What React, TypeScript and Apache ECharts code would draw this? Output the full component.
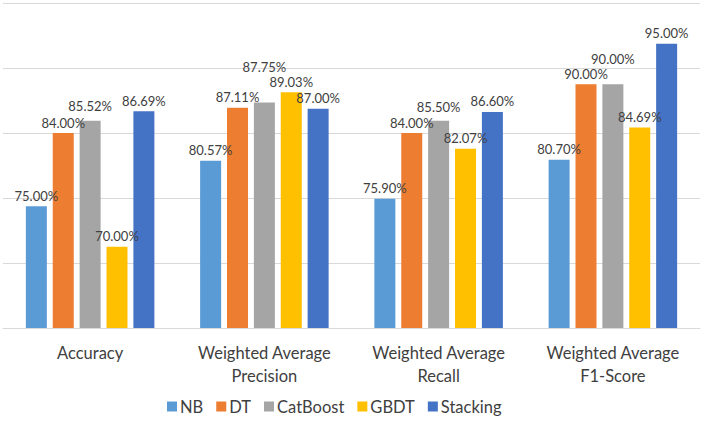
import React, { useEffect, useRef } from "react";
import * as echarts from "echarts";

const categories = [
  "Accuracy",
  "Weighted Average\nPrecision",
  "Weighted Average\nRecall",
  "Weighted Average\nF1-Score",
];

const seriesNames = ["NB", "DT", "CatBoost", "GBDT", "Stacking"];

const nbValues = [75.0, 80.57, 75.9, 80.7];
const dtValues = [84.0, 87.11, 84.0, 90.0];
const catBoostValues = [85.52, 87.75, 85.5, 90.0];
const gbdtValues = [70.0, 89.03, 82.07, 84.69];
const stackingValues = [86.69, 87.0, 86.6, 95.0];

const seriesValues = [nbValues, dtValues, catBoostValues, gbdtValues, stackingValues];
const colors = ["#5B9BD5", "#ED7D31", "#A5A5A5", "#FFC000", "#4472C4"];

// Vertical nudges (px) for value labels that would otherwise collide with a neighbour,
// indexed [series][category].
const labelNudges: number[][] = [
  [0, 0, 0, 0],
  [0, 0, 0, 0],
  [-4, -25, -3, -15],
  [0, 0, 0, 0],
  [0, 0, 0, 0],
];

const FONT = "Lato, 'Open Sans', sans-serif";

export default function App() {
  const ref = useRef<HTMLDivElement>(null);

  useEffect(() => {
    document.body.style.margin = "0";
    const chart = echarts.init(ref.current!, null, { renderer: "svg" });
    chart.setOption({
      animation: false,
      backgroundColor: "#ffffff",
      textStyle: { fontFamily: FONT },
      grid: { left: 3, right: 8, top: 3, bottom: 93, containLabel: false },
      legend: {
        bottom: 1,
        left: 162,
        itemWidth: 10,
        itemHeight: 10,
        itemGap: 13,
        icon: "rect",
        textStyle: { fontSize: 16.5, color: "#404040", fontFamily: FONT, padding: [0, 0, 0, -2] },
        data: seriesNames,
      },
      xAxis: {
        type: "category",
        data: categories,
        axisLine: { lineStyle: { color: "#d9d9d9" } },
        axisTick: { show: false },
        axisLabel: {
          fontSize: 16.5,
          color: "#404040",
          lineHeight: 23,
          margin: 13,
          fontFamily: FONT,
        },
      },
      yAxis: {
        type: "value",
        min: 60,
        max: 100,
        interval: 8,
        axisLabel: { show: false },
        axisLine: { show: false },
        axisTick: { show: false },
        splitLine: { lineStyle: { color: "#d9d9d9", width: 1 } },
      },
      series: seriesNames.map((name, i) => ({
        name,
        type: "bar",
        data: seriesValues[i].map((v, j) => ({
          value: v,
          label: { offset: [0, labelNudges[i][j]] },
        })),
        barWidth: 21,
        barGap: "28%",
        itemStyle: { color: colors[i] },
        label: {
          show: true,
          position: "top",
          distance: 4,
          fontSize: 13,
          color: "#404040",
          fontFamily: FONT,
          formatter: (p: any) => `${Number(p.value).toFixed(2)}%`,
        },
      })),
    });
    return () => chart.dispose();
  }, []);

  return <div ref={ref} style={{ width: 708, height: 421 }} />;
}
